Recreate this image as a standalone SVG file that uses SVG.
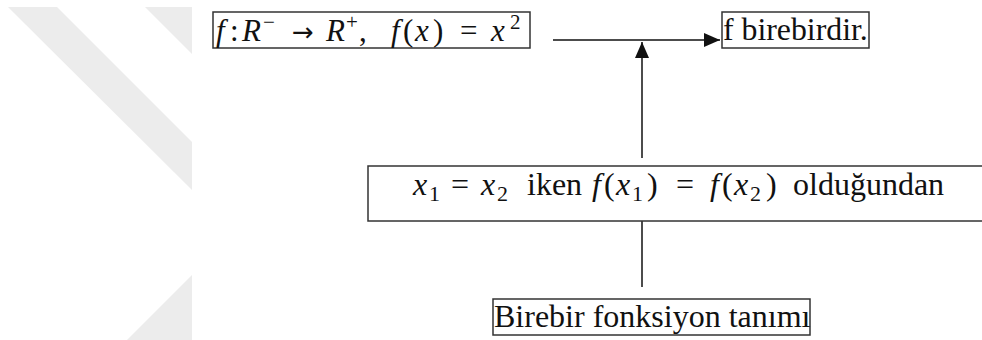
<svg xmlns="http://www.w3.org/2000/svg" width="982" height="340" viewBox="0 0 982 340">
<style>
  .box { fill: #ffffff; stroke: #333333; stroke-width: 1.5; }
  .u { font-style: normal; }
  .conn { stroke: #111111; stroke-width: 1.5; fill: none; }
  .wm { fill: #ececec; }
</style>
<defs>
  <clipPath id="wmclip"><rect x="0" y="7" width="192" height="333"/></clipPath>
  <marker id="arrow" markerUnits="userSpaceOnUse" markerWidth="17" markerHeight="14" refX="16" refY="7" orient="auto">
    <path d="M0,0 L16,7 L0,14 Z" fill="#111111"/>
  </marker>
</defs>
<rect x="0" y="0" width="982" height="340" fill="#ffffff"/>
<g id="watermark" clip-path="url(#wmclip)">
  <polygon class="wm" points="8,7 57,7 192,142 192,190"/>
  <polygon class="wm" points="145,7 192,7 192,54"/>
  <polygon class="wm" points="192,275 192,340 127,340"/>
</g>
<g id="connectors">
  <line class="conn" x1="553" y1="40" x2="720" y2="40" marker-end="url(#arrow)"/>
  <line class="conn" x1="642" y1="158" x2="642" y2="42" marker-end="url(#arrow)"/>
  <line class="conn" x1="642" y1="221" x2="642" y2="287"/>
</g>
<g id="node-function">
  <rect class="box" x="213" y="12" width="317" height="36"/>
  <text font-family="'Liberation Serif', 'DejaVu Serif', serif" fill="#111111" font-style="italic" y="41" font-size="31"><tspan x="216">f</tspan><tspan class="u" x="230">:</tspan><tspan x="242">R</tspan><tspan class="u" x="263" dy="-12" font-size="21">−</tspan><tspan class="u" x="292" dy="12" font-size="26" font-family="'DejaVu Sans', sans-serif">→</tspan><tspan x="326">R</tspan><tspan class="u" x="346" dy="-12" font-size="21">+</tspan><tspan class="u" x="359" dy="12">,</tspan><tspan x="391">f</tspan><tspan class="u" x="403">(</tspan><tspan x="415">x</tspan><tspan class="u" x="433">)</tspan><tspan class="u" x="460">=</tspan><tspan x="491">x</tspan><tspan class="u" x="510" dy="-12" font-size="21">2</tspan></text>
</g>
<g id="node-result">
  <rect class="box" x="722" y="12" width="147" height="36"/>
  <text font-family="'Liberation Serif', 'DejaVu Serif', serif" fill="#111111" x="723" y="40" font-size="31.8">f birebirdir.</text>
</g>
<g id="node-reason">
  <rect class="box" x="368" y="166" width="616" height="55"/>
  <text font-family="'Liberation Serif', 'DejaVu Serif', serif" fill="#111111" font-style="italic" y="195" font-size="32"><tspan x="413">x</tspan><tspan class="u" x="429" dy="6" font-size="22">1</tspan><tspan class="u" x="451" dy="-6">=</tspan><tspan x="481">x</tspan><tspan class="u" x="497" dy="6" font-size="22">2</tspan><tspan class="u" x="527" dy="-6">iken</tspan><tspan x="592">f</tspan><tspan class="u" x="604">(</tspan><tspan x="616">x</tspan><tspan class="u" x="632" dy="6" font-size="22">1</tspan><tspan class="u" x="647" dy="-6">)</tspan><tspan class="u" x="676">=</tspan><tspan x="710">f</tspan><tspan class="u" x="722">(</tspan><tspan x="734">x</tspan><tspan class="u" x="750" dy="6" font-size="22">2</tspan><tspan class="u" x="766" dy="-6">)</tspan><tspan class="u" x="793">olduğundan</tspan></text>
</g>
<g id="node-definition">
  <rect class="box" x="493" y="299" width="317" height="36"/>
  <text font-family="'Liberation Serif', 'DejaVu Serif', serif" fill="#111111" x="494" y="327" font-size="32">Birebir fonksiyon tanımı</text>
</g>
</svg>
